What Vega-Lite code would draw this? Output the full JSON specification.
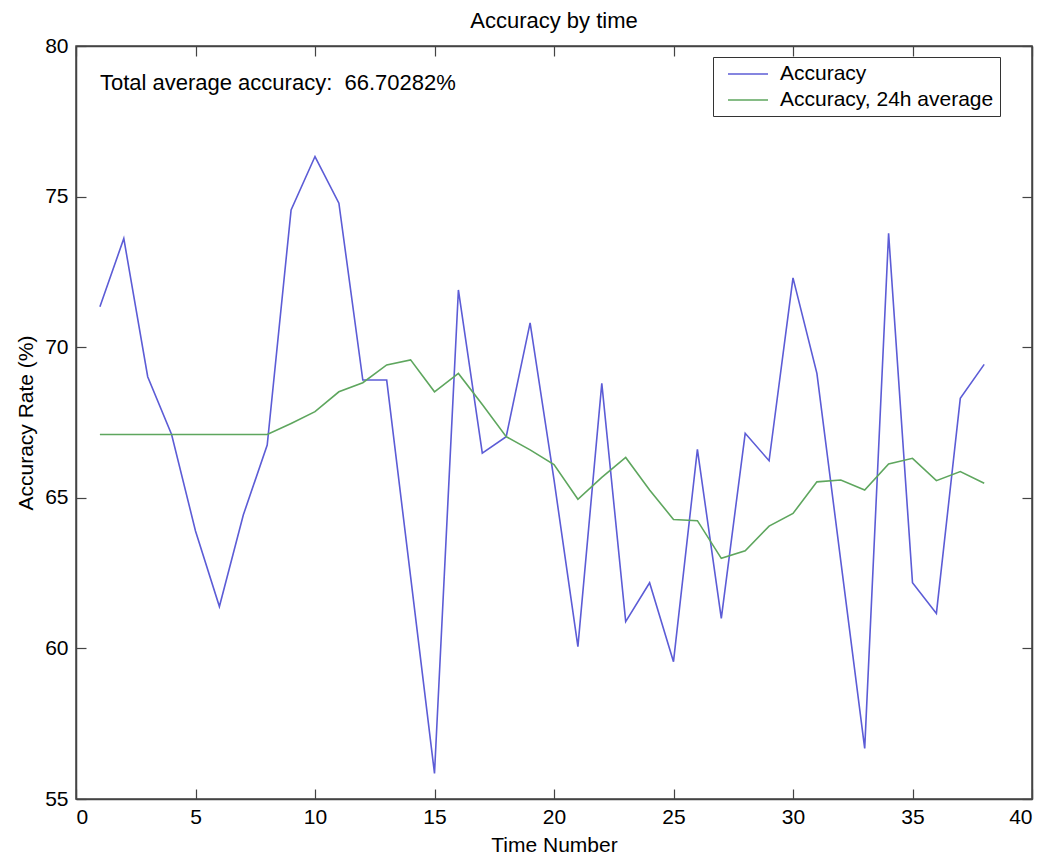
{
  "$schema": "https://vega.github.io/schema/vega-lite/v6.json",
  "width": 956,
  "height": 753,
  "autosize": "none",
  "padding": {"left": 76, "top": 46, "right": 26, "bottom": 60},
  "background": "white",
  "title": {
    "text": "Accuracy by time",
    "fontSize": 22,
    "font": "Liberation Sans",
    "fontWeight": "normal",
    "color": "#000000",
    "offset": 2,
    "anchor": "middle",
    "frame": "group"
  },
  "config": {
    "font": "Liberation Sans",
    "view": {"stroke": "#444444", "strokeWidth": 1.5},
    "axis": {
      "grid": false,
      "domainColor": "#444444",
      "domainWidth": 1.5,
      "tickColor": "#444444",
      "tickWidth": 1.2,
      "tickSize": -10,
      "labelFont": "Liberation Sans",
      "labelFontSize": 21,
      "labelColor": "#000000",
      "titleFont": "Liberation Sans",
      "titleFontSize": 21,
      "titleFontWeight": "normal",
      "titleColor": "#000000"
    }
  },
  "data": {
    "values": [
      {"t": 1, "series": "Accuracy", "acc": 71.34},
      {"t": 2, "series": "Accuracy", "acc": 73.61},
      {"t": 3, "series": "Accuracy", "acc": 69.02},
      {"t": 4, "series": "Accuracy", "acc": 67.1},
      {"t": 5, "series": "Accuracy", "acc": 63.9},
      {"t": 6, "series": "Accuracy", "acc": 61.39},
      {"t": 7, "series": "Accuracy", "acc": 64.43},
      {"t": 8, "series": "Accuracy", "acc": 66.75},
      {"t": 9, "series": "Accuracy", "acc": 74.56},
      {"t": 10, "series": "Accuracy", "acc": 76.33},
      {"t": 11, "series": "Accuracy", "acc": 74.78},
      {"t": 12, "series": "Accuracy", "acc": 68.91},
      {"t": 13, "series": "Accuracy", "acc": 68.91},
      {"t": 14, "series": "Accuracy", "acc": 62.38},
      {"t": 15, "series": "Accuracy", "acc": 55.85},
      {"t": 16, "series": "Accuracy", "acc": 71.9},
      {"t": 17, "series": "Accuracy", "acc": 66.48},
      {"t": 18, "series": "Accuracy", "acc": 67.03},
      {"t": 19, "series": "Accuracy", "acc": 70.81},
      {"t": 20, "series": "Accuracy", "acc": 65.6},
      {"t": 21, "series": "Accuracy", "acc": 60.06},
      {"t": 22, "series": "Accuracy", "acc": 68.8},
      {"t": 23, "series": "Accuracy", "acc": 60.89},
      {"t": 24, "series": "Accuracy", "acc": 62.18},
      {"t": 25, "series": "Accuracy", "acc": 59.56},
      {"t": 26, "series": "Accuracy", "acc": 66.61},
      {"t": 27, "series": "Accuracy", "acc": 61.0},
      {"t": 28, "series": "Accuracy", "acc": 67.14},
      {"t": 29, "series": "Accuracy", "acc": 66.23},
      {"t": 30, "series": "Accuracy", "acc": 72.3},
      {"t": 31, "series": "Accuracy", "acc": 69.13},
      {"t": 32, "series": "Accuracy", "acc": 62.9},
      {"t": 33, "series": "Accuracy", "acc": 56.68},
      {"t": 34, "series": "Accuracy", "acc": 73.78},
      {"t": 35, "series": "Accuracy", "acc": 62.18},
      {"t": 36, "series": "Accuracy", "acc": 61.16},
      {"t": 37, "series": "Accuracy", "acc": 68.3},
      {"t": 38, "series": "Accuracy", "acc": 69.43},
      {"t": 1, "series": "Accuracy, 24h average", "acc": 67.1},
      {"t": 2, "series": "Accuracy, 24h average", "acc": 67.1},
      {"t": 3, "series": "Accuracy, 24h average", "acc": 67.1},
      {"t": 4, "series": "Accuracy, 24h average", "acc": 67.1},
      {"t": 5, "series": "Accuracy, 24h average", "acc": 67.1},
      {"t": 6, "series": "Accuracy, 24h average", "acc": 67.1},
      {"t": 7, "series": "Accuracy, 24h average", "acc": 67.1},
      {"t": 8, "series": "Accuracy, 24h average", "acc": 67.1},
      {"t": 9, "series": "Accuracy, 24h average", "acc": 67.47},
      {"t": 10, "series": "Accuracy, 24h average", "acc": 67.86},
      {"t": 11, "series": "Accuracy, 24h average", "acc": 68.52},
      {"t": 12, "series": "Accuracy, 24h average", "acc": 68.82},
      {"t": 13, "series": "Accuracy, 24h average", "acc": 69.41},
      {"t": 14, "series": "Accuracy, 24h average", "acc": 69.58},
      {"t": 15, "series": "Accuracy, 24h average", "acc": 68.52},
      {"t": 16, "series": "Accuracy, 24h average", "acc": 69.13},
      {"t": 17, "series": "Accuracy, 24h average", "acc": 68.1},
      {"t": 18, "series": "Accuracy, 24h average", "acc": 67.03},
      {"t": 19, "series": "Accuracy, 24h average", "acc": 66.59},
      {"t": 20, "series": "Accuracy, 24h average", "acc": 66.1},
      {"t": 21, "series": "Accuracy, 24h average", "acc": 64.95},
      {"t": 22, "series": "Accuracy, 24h average", "acc": 65.68},
      {"t": 23, "series": "Accuracy, 24h average", "acc": 66.34},
      {"t": 24, "series": "Accuracy, 24h average", "acc": 65.26},
      {"t": 25, "series": "Accuracy, 24h average", "acc": 64.28},
      {"t": 26, "series": "Accuracy, 24h average", "acc": 64.24},
      {"t": 27, "series": "Accuracy, 24h average", "acc": 62.99},
      {"t": 28, "series": "Accuracy, 24h average", "acc": 63.24},
      {"t": 29, "series": "Accuracy, 24h average", "acc": 64.06},
      {"t": 30, "series": "Accuracy, 24h average", "acc": 64.48},
      {"t": 31, "series": "Accuracy, 24h average", "acc": 65.53},
      {"t": 32, "series": "Accuracy, 24h average", "acc": 65.59},
      {"t": 33, "series": "Accuracy, 24h average", "acc": 65.26},
      {"t": 34, "series": "Accuracy, 24h average", "acc": 66.12},
      {"t": 35, "series": "Accuracy, 24h average", "acc": 66.31},
      {"t": 36, "series": "Accuracy, 24h average", "acc": 65.57},
      {"t": 37, "series": "Accuracy, 24h average", "acc": 65.87},
      {"t": 38, "series": "Accuracy, 24h average", "acc": 65.48}
    ]
  },
  "layer": [
    {
      "mark": {"type": "line", "strokeWidth": 1.6},
      "encoding": {
        "x": {
          "field": "t", "type": "quantitative",
          "scale": {"domain": [0, 40], "nice": false, "zero": false},
          "axis": {"orient": "bottom", "values": [0, 5, 10, 15, 20, 25, 30, 35, 40], "title": "Time Number", "labelPadding": 17, "titlePadding": 7}
        },
        "y": {
          "field": "acc", "type": "quantitative",
          "scale": {"domain": [55, 80], "nice": false, "zero": false},
          "axis": {"orient": "left", "values": [55, 60, 65, 70, 75, 80], "title": "Accuracy Rate (%)", "labelPadding": 18, "titlePadding": 8}
        },
        "color": {
          "field": "series", "type": "nominal",
          "scale": {"domain": ["Accuracy", "Accuracy, 24h average"], "range": ["#5c5cd6", "#5ea65e"]},
          "legend": {
            "orient": "none",
            "legendX": 637,
            "legendY": 11,
            "title": null,
            "symbolType": "M-0.2,0L3.8,0",
            "symbolSize": 400,
            "symbolStrokeWidth": 1.6,
            "labelFontSize": 21,
            "labelFont": "Liberation Sans",
            "labelColor": "#000000",
            "labelOffset": 39,
            "labelLimit": 0,
            "rowPadding": 5,
            "padding": 6,
            "strokeColor": "#333333",
            "fillColor": "#ffffff"
          }
        }
      }
    },
    {
      "mark": {"type": "line", "strokeOpacity": 0},
      "encoding": {
        "x": {
          "field": "t", "type": "quantitative",
          "axis": {"orient": "top", "values": [0, 5, 10, 15, 20, 25, 30, 35, 40], "labels": false, "title": null}
        },
        "y": {
          "field": "acc", "type": "quantitative",
          "axis": {"orient": "right", "values": [55, 60, 65, 70, 75, 80], "labels": false, "title": null}
        },
        "detail": {"field": "series"}
      }
    },
    {
      "data": {"values": [{"label": "Total average accuracy:\u00a0 66.70282%"}]},
      "mark": {"type": "text", "align": "left", "baseline": "middle", "fontSize": 22, "font": "Liberation Sans", "color": "#000000"},
      "encoding": {
        "x": {"datum": 1, "type": "quantitative", "axis": null},
        "y": {"datum": 78.76, "type": "quantitative", "axis": null},
        "text": {"field": "label", "type": "nominal"}
      }
    }
  ],
  "resolve": {"axis": {"x": "independent", "y": "independent"}}
}
